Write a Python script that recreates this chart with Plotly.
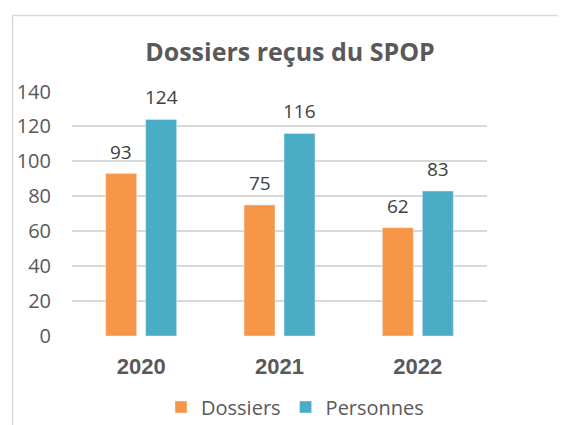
import plotly.graph_objects as go

years = ["2020", "2021", "2022"]
dossiers = [93, 75, 62]
personnes = [124, 116, 83]
y_ticks = [0, 20, 40, 60, 80, 100, 120, 140]

FONT = "Open Sans"
TXT = "#595959"
OFF = 8  # page body margin

fig = go.Figure()
fig.add_trace(go.Bar(name="Dossiers", x=years, y=dossiers, marker_color="#F79646"))
fig.add_trace(go.Bar(name="Personnes", x=years, y=personnes, marker_color="#4BACC6"))

# data labels above bars (category index = position of the year)
for vals, shift in ((dossiers, -20), (personnes, 20)):
    for i, v in enumerate(vals):
        fig.add_annotation(x=i, y=v, text=str(v), showarrow=False, xshift=shift,
                           yanchor="bottom", yshift=7,
                           font=dict(family=FONT, size=19, color="#404040"))

W, H = 566 - OFF, 425 - OFF
L, T = 72 - OFF, 91 - OFF
R = W - (487 - OFF)
B = H - (336 - OFF)
pw = W - L - R
ph = H - T - B

def px_x(x):
    return (x - OFF - L) / pw

def px_y(y):
    return (T + ph - (y - OFF)) / ph

fig.update_layout(
    width=W, height=H,
    margin=dict(l=L, r=R, t=T, b=B, pad=0),
    paper_bgcolor="white", plot_bgcolor="white",
    barmode="group", bargap=0.422, bargroupgap=0.225,
    title=dict(text="<b>Dossiers reçus du SPOP</b>", x=(290 - OFF) / W, xanchor="center",
               y=1 - (52 - OFF) / H, yanchor="middle", xref="container", yref="container",
               font=dict(family=FONT, size=25, color=TXT)),
    font=dict(family=FONT, color=TXT),
    showlegend=True,
    legend=dict(orientation="h", xref="container", yref="container",
                x=(295 - OFF) / W, xanchor="center",
                y=1 - (407 - OFF) / H, yanchor="middle",
                font=dict(family=FONT, size=20, color=TXT),
                itemwidth=30, traceorder="normal", bgcolor="rgba(0,0,0,0)"),
    shapes=[dict(type="rect", xref="paper", yref="paper",
                 x0=px_x(12.5), x1=px_x(600),
                 y0=px_y(460), y1=px_y(15.5),
                 line=dict(color="#D9D9D9", width=1.5), layer="below")],
)
fig.update_yaxes(range=[0, 140.3], tickvals=y_ticks, showgrid=True, gridcolor="#D9D9D9",
                 gridwidth=1.5, zeroline=False, showline=False, automargin=False,
                 ticks="outside", ticklen=16, tickcolor="rgba(0,0,0,0)",
                 tickfont=dict(family=FONT, size=20, color=TXT))
fig.update_xaxes(type="category", range=[-0.5, len(years) - 0.5], showline=False,
                 ticks="outside", ticklen=11,
                 tickcolor="rgba(0,0,0,0)", automargin=False,
                 tickfont=dict(family="Liberation Sans", size=22, color=TXT),
                 tickprefix="<b>", ticksuffix="</b>")

fig.write_html("out.html")
